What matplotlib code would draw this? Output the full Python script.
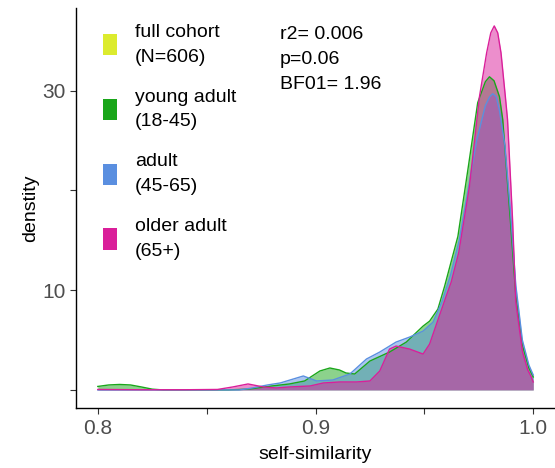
import matplotlib
matplotlib.use("Agg")
import matplotlib.pyplot as plt
from matplotlib.patches import Patch

plt.rcParams["font.family"] = ["Liberation Sans", "DejaVu Sans"]

# density curves (x = self-similarity, y = density)
young_x = [0.800, 0.805, 0.810, 0.815, 0.820, 0.825, 0.830, 0.860, 0.870, 0.880,
           0.888, 0.895, 0.902, 0.9066, 0.911, 0.914, 0.918, 0.925, 0.934, 0.9417,
           0.9494, 0.9524, 0.9562, 0.9593, 0.9654, 0.970, 0.9745, 0.9765, 0.978,
           0.9799, 0.982, 0.9845, 0.986, 0.9895, 0.992, 0.995, 0.998, 1.000]
young_y = [0.35, 0.5, 0.55, 0.5, 0.3, 0.08, 0.0, 0.0, 0.1, 0.4,
           0.6, 0.9, 1.9, 2.2, 2.0, 1.7, 1.6, 2.9, 3.8, 4.8,
           6.4, 6.9, 8.1, 10.4, 15.4, 22.1, 28.8, 30.0, 30.9,
           31.4, 31.0, 29.4, 27.1, 17.0, 9.5, 4.5, 2.2, 1.3]

adult_x = [0.800, 0.865, 0.871, 0.878, 0.8838, 0.8944, 0.9005, 0.908, 0.9158, 0.9234,
           0.9295, 0.937, 0.9432, 0.9494, 0.954, 0.958, 0.962, 0.966, 0.970, 0.974,
           0.978, 0.980, 0.9814, 0.983, 0.9845, 0.987, 0.9895, 0.992, 0.995, 0.998, 1.000]
adult_y = [0.0, 0.0, 0.2, 0.5, 0.7, 1.4, 0.9, 1.0, 1.6, 3.1,
           3.8, 4.8, 5.3, 5.9, 6.8, 8.8, 11.5, 15.0, 20.0, 25.0,
           28.5, 29.4, 29.7, 29.4, 28.0, 24.5, 18.0, 10.5, 5.0, 2.5, 1.5]

older_x = [0.800, 0.820, 0.840, 0.855, 0.862, 0.869, 0.876, 0.882, 0.888, 0.8975,
           0.9036, 0.9112, 0.9188, 0.925, 0.9295, 0.934, 0.937, 0.9432, 0.9494, 0.9524,
           0.9562, 0.960, 0.9623, 0.9658, 0.9707, 0.9753, 0.9786, 0.9805, 0.9821, 0.9837,
           0.9852, 0.9872, 0.9882, 0.9905, 0.992, 0.9951, 0.9975, 0.9989, 1.000]
older_y = [0.05, 0.02, 0.02, 0.05, 0.3, 0.6, 0.3, 0.2, 0.3, 0.4,
           0.7, 0.8, 0.8, 0.9, 1.9, 4.1, 4.4, 4.1, 3.6, 4.6,
           7.0, 9.4, 10.8, 13.8, 20.4, 29.4, 33.8, 35.8, 36.5, 35.8,
           33.8, 29.4, 27.1, 17.1, 8.8, 3.8, 2.0, 1.4, 0.8]

legend_labels = ["full cohort\n(N=606)", "young adult\n(18-45)", "adult\n(45-65)", "older adult\n(65+)"]
legend_colors = ["#DCEB2E", "#1AA61A", "#5A8FE0", "#DA1F9A"]

stats_text = "r2= 0.006\np=0.06\nBF01= 1.96"

fig = plt.figure(figsize=(5.55, 4.68), dpi=100)
ax = fig.add_axes([0.137, 0.128, 0.863, 0.855])

series = [(young_x, young_y, legend_colors[1]),
          (adult_x, adult_y, legend_colors[2]),
          (older_x, older_y, legend_colors[3])]
for xs, ys, col in series:
    ax.fill_between(xs, 0, ys, color=col, alpha=0.5, linewidth=0)
    ax.plot(xs, ys, color=col, linewidth=1.0)

ax.set_xlim(0.79, 1.01)
ax.set_ylim(-1.82, 38.3)
ax.set_xticks([0.8, 0.85, 0.9, 0.95, 1.0])
ax.set_xticklabels(["0.8", "", "0.9", "", "1.0"])
ax.set_yticks([0, 10, 20, 30])
ax.set_yticklabels(["", "10", "", "30"])
ax.tick_params(labelsize=15, labelcolor="#4D4D4D", color="#333333", length=4, width=0.8)

for side in ["top", "right"]:
    ax.spines[side].set_visible(False)
for side in ["left", "bottom"]:
    ax.spines[side].set_linewidth(1.0)

ax.set_xlabel("self-similarity", fontsize=14, labelpad=6)
ax.set_ylabel("denstity", fontsize=14, labelpad=2)

handles = [Patch(facecolor=c, edgecolor="none") for c in legend_colors]
leg = ax.legend(handles, legend_labels, loc="upper left", bbox_to_anchor=(0.02, 1.004),
                frameon=False, fontsize=14, handlelength=0.7, handleheight=1.3,
                handletextpad=0.95, labelspacing=1.18)
for t in leg.get_texts():
    t.set_linespacing(1.6)

ax.text(0.425, 0.955, stats_text, transform=ax.transAxes, fontsize=14,
        va="top", ha="left", linespacing=1.62)

fig.savefig("out.png", dpi=100, facecolor="white")
